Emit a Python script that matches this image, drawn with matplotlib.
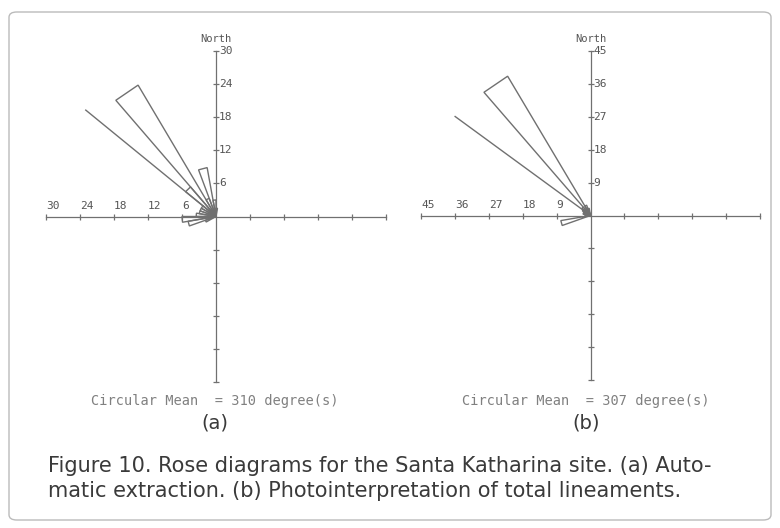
import numpy as np
import matplotlib.pyplot as plt
from matplotlib.patches import Polygon, FancyBboxPatch

# rose petals: start azimuth (deg), petal length (count), 10 degree bins
bin_width = 10
left_bins = [240, 250, 260, 270, 280, 290, 300, 310, 320, 330, 340, 350, 0]
left_counts = [2, 5, 6, 3.5, 3, 3, 3, 7, 27.5, 3.5, 9, 3, 1.5]
left_mean = 310
left_max = 30
left_step = 6

right_bins = [250, 270, 280, 290, 300, 310, 320, 330, 340]
right_counts = [8, 1.5, 2, 2, 2.5, 3, 44, 3, 2]
right_mean = 307
right_max = 45
right_step = 9

panel_labels = ["(a)", "(b)"]
caption = ["Figure 10. Rose diagrams for the Santa Katharina site. (a) Auto-",
           "matic extraction. (b) Photointerpretation of total lineaments."]

line_c = '#707070'
text_c = '#555555'
mono = 'DejaVu Sans Mono'

fig = plt.figure(figsize=(7.8, 5.28), dpi=100, facecolor='white')


def rose(rect, bins, counts, mean, rmax, step):
    ax = fig.add_axes(rect)
    ax.set_xlim(-rmax, rmax)
    ax.set_ylim(-rmax, rmax)
    ax.patch.set_alpha(0)
    # axes crossing at the origin
    for s in ['top', 'right']:
        ax.spines[s].set_visible(False)
    ax.spines['left'].set_position(('data', 0))
    ax.spines['bottom'].set_position(('data', 0))
    for s in ['left', 'bottom']:
        ax.spines[s].set_color(line_c)
        ax.spines[s].set_linewidth(0.9)
    ticks = [t for t in range(-rmax, rmax + 1, step) if t != 0]
    ax.set_xticks(ticks)
    ax.set_yticks(ticks)
    ax.tick_params(direction='inout', length=4, width=0.9, color=line_c,
                   labelleft=False, labelbottom=False)

    # petals
    for az, r in zip(bins, counts):
        a = np.radians([az, az + bin_width])
        pts = [(0, 0), (r * np.sin(a[0]), r * np.cos(a[0])), (r * np.sin(a[1]), r * np.cos(a[1]))]
        ax.add_patch(Polygon(pts, closed=True, fill=False, ec=line_c, lw=1.0))
    # mean direction
    m = np.radians(mean)
    ax.plot([0, rmax * np.sin(m)], [0, rmax * np.cos(m)], color=line_c, lw=1.0)

    # tick labels
    for v in range(step, rmax + 1, step):
        ax.annotate(str(v), (-v, 0), xytext=(0, 4), textcoords='offset points',
                    ha='left', va='bottom', fontsize=8, family=mono, color=text_c)
        ax.annotate(str(v), (0, v), xytext=(2, 0), textcoords='offset points',
                    ha='left', va='center', fontsize=8, family=mono, color=text_c)
    ax.annotate('North', (0, rmax), xytext=(0, 5), textcoords='offset points',
                ha='center', va='bottom', fontsize=7.5, family=mono, color=text_c)
    return ax


rose([46 / 780, (528 - 382) / 528, 340 / 780, (382 - 51) / 528],
     left_bins, left_counts, left_mean, left_max, left_step)
rose([421 / 780, (528 - 380) / 528, 339 / 780, (380 - 51) / 528],
     right_bins, right_counts, right_mean, right_max, right_step)

# circular mean texts and panel labels
for cx, mval, lab in zip([215, 586], [left_mean, right_mean], panel_labels):
    fig.text(cx / 780, 1 - 401 / 528, 'Circular Mean  = %d degree(s)' % mval,
             ha='center', va='center', fontsize=9.8, family=mono, color='#808080')
    fig.text(cx / 780, 1 - 423 / 528, lab, ha='center', va='center',
             fontsize=14, family='DejaVu Sans', color='#3a3a3a')

fig.text(48 / 780, 1 - 466 / 528, caption[0], ha='left', va='center',
         fontsize=15, family='DejaVu Sans', color='#3a3a3a')
fig.text(48 / 780, 1 - 491 / 528, caption[1], ha='left', va='center',
         fontsize=15, family='DejaVu Sans', color='#3a3a3a')

# frame
fig.patches.append(FancyBboxPatch((9 / 780, 8 / 528), 762 / 780, 508 / 528,
                                  boxstyle='round,pad=0,rounding_size=0.01',
                                  transform=fig.transFigure, fill=False,
                                  ec='#bbbbbb', lw=1.0))

plt.savefig('out.png', facecolor=fig.get_facecolor())
plt.close()
